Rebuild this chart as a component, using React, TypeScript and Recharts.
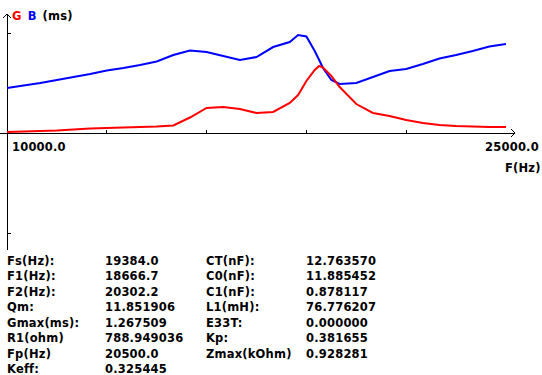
import React from 'react';
import { LineChart, Line, XAxis, YAxis, ReferenceLine } from 'recharts';

// frequency sweep (Hz) and the two admittance curves
const freqs = [
  10000, 10500, 11000, 11500, 12000, 12500, 13000, 13500, 14000, 14500,
  15000, 15500, 16000, 16500, 17000, 17500, 18000, 18500, 18750, 19000,
  19250, 19384, 19500, 19750, 20000, 20500, 21000, 21500, 22000, 22500,
  23000, 23500, 24000, 24500, 25000,
];
// G conductance (ms)
const gValues = [
  0.019, 0.028, 0.038, 0.047, 0.066, 0.085, 0.095, 0.104, 0.113, 0.123,
  0.142, 0.293, 0.473, 0.491, 0.454, 0.378, 0.397, 0.567, 0.718, 0.983,
  1.191, 1.267, 1.238, 1.077, 0.869, 0.548, 0.378, 0.321, 0.246, 0.189,
  0.151, 0.132, 0.123, 0.113, 0.113,
];
// B susceptance (ms)
const bValues = [
  0.851, 0.898, 0.945, 1.002, 1.058, 1.115, 1.181, 1.229, 1.285, 1.351,
  1.474, 1.559, 1.531, 1.455, 1.380, 1.436, 1.625, 1.720, 1.852, 1.824,
  1.550, 1.380, 1.229, 1.002, 0.926, 0.945, 1.058, 1.172, 1.210, 1.304,
  1.408, 1.474, 1.550, 1.635, 1.682,
];

const xTickLabels = [10000, 25000];
const xTickMarks = [13000, 16000, 19000, 22000];
const yTickMarks = [1.89, -1.89];
const yTop = 2.25;
const yBottom = -2.21;

const leftLabels = ['Fs(Hz):', 'F1(Hz):', 'F2(Hz):', 'Qm:', 'Gmax(ms):', 'R1(ohm)', 'Fp(Hz)', 'Keff:'];
const leftValues = ['19384.0', '18666.7', '20302.2', '11.851906', '1.267509', '788.949036', '20500.0', '0.325445'];
const rightLabels = ['CT(nF):', 'C0(nF):', 'C1(nF):', 'L1(mH):', 'E33T:', 'Kp:', 'Zmax(kOhm)'];
const rightValues = ['12.763570', '11.885452', '0.878117', '76.776207', '0.000000', '0.381655', '0.928281'];

const data = freqs.map((f, i) => ({ f, g: gValues[i], b: bValues[i] }));

const FONT = '"DejaVu Sans", sans-serif';
const HZ = 15000 / 499; // one pixel along x
const MS = 1.89 / 100;  // one pixel along y

const txt = { fontFamily: FONT, fontSize: 11.5, fontWeight: 700, letterSpacing: 0.2, fill: '#000' };

const FreqTick = (props: any) => {
  const { x, y, payload } = props;
  const first = payload.value === xTickLabels[0];
  return (
    <text x={first ? x + 5 : x + 6} y={y + 10} textAnchor={first ? 'start' : 'middle'} style={txt}>
      {Number(payload.value).toFixed(1)}
    </text>
  );
};

const seg = (x1: number, y1: number, x2: number, y2: number, key: string) => (
  <ReferenceLine
    key={key}
    segment={[{ x: x1, y: y1 }, { x: x2, y: y2 }]}
    stroke="#000"
    strokeWidth={1}
    ifOverflow="visible"
    shapeRendering="crispEdges"
  />
);

export default function App() {
  const rowY = (i: number) => 265 + i * 15.45;
  return (
    <div style={{ position: 'absolute', left: 0, top: 0, width: 542, height: 375, background: '#fff' }}>
      <LineChart width={542} height={375} data={data} margin={{ top: 33, right: 36, bottom: 212, left: 7 }}>
        <XAxis
          dataKey="f"
          type="number"
          domain={[10000, 25000]}
          allowDataOverflow
          ticks={xTickLabels}
          interval={0}
          axisLine={false}
          tickLine={false}
          height={30}
          tick={<FreqTick />}
        />
        <YAxis type="number" domain={[0, 1.89]} allowDataOverflow hide />
        {/* axes with arrows */}
        {seg(10000 - 7 * HZ, 0, 25000 + 9 * HZ, 0, 'xaxis')}
        {seg(10000, yTop, 10000, yBottom, 'yaxis')}
        {seg(25000 + 5 * HZ, 4 * MS, 25000 + 9 * HZ, 0, 'xa1')}
        {seg(25000 + 5 * HZ, -4 * MS, 25000 + 9 * HZ, 0, 'xa2')}
        {seg(10000 - 4 * HZ, yTop - 4 * MS, 10000, yTop, 'ya1')}
        {seg(10000 + 4 * HZ, yTop - 4 * MS, 10000, yTop, 'ya2')}
        {xTickMarks.map((t) => seg(t, 0, t, 3 * MS, `xt${t}`))}
        {yTickMarks.map((t) => seg(10000, t, 10000 + 4 * HZ, t, `yt${t}`))}
        <Line type="linear" dataKey="b" stroke="#0000ff" strokeWidth={2} dot={false} isAnimationActive={false} />
        <Line type="linear" dataKey="g" stroke="#ff0000" strokeWidth={2} dot={false} isAnimationActive={false} />
      </LineChart>
      <svg width={542} height={375} style={{ position: 'absolute', left: 0, top: 0, pointerEvents: 'none' }}>
        <text x={12} y={20} style={txt}>
          <tspan fill="#ff0000">G</tspan>
          <tspan fill="#0000ff" dx={6}>B</tspan>
          <tspan fill="#000" dx={6}>(ms)</tspan>
        </text>
        <text x={505} y={172} style={txt}>F(Hz)</text>
        {leftLabels.map((l, i) => (
          <text key={`ll${i}`} x={7} y={rowY(i)} style={txt}>{l}</text>
        ))}
        {leftValues.map((v, i) => (
          <text key={`lv${i}`} x={105} y={rowY(i)} style={txt}>{v}</text>
        ))}
        {rightLabels.map((l, i) => (
          <text key={`rl${i}`} x={206} y={rowY(i)} style={txt}>{l}</text>
        ))}
        {rightValues.map((v, i) => (
          <text key={`rv${i}`} x={306} y={rowY(i)} style={txt}>{v}</text>
        ))}
      </svg>
    </div>
  );
}
